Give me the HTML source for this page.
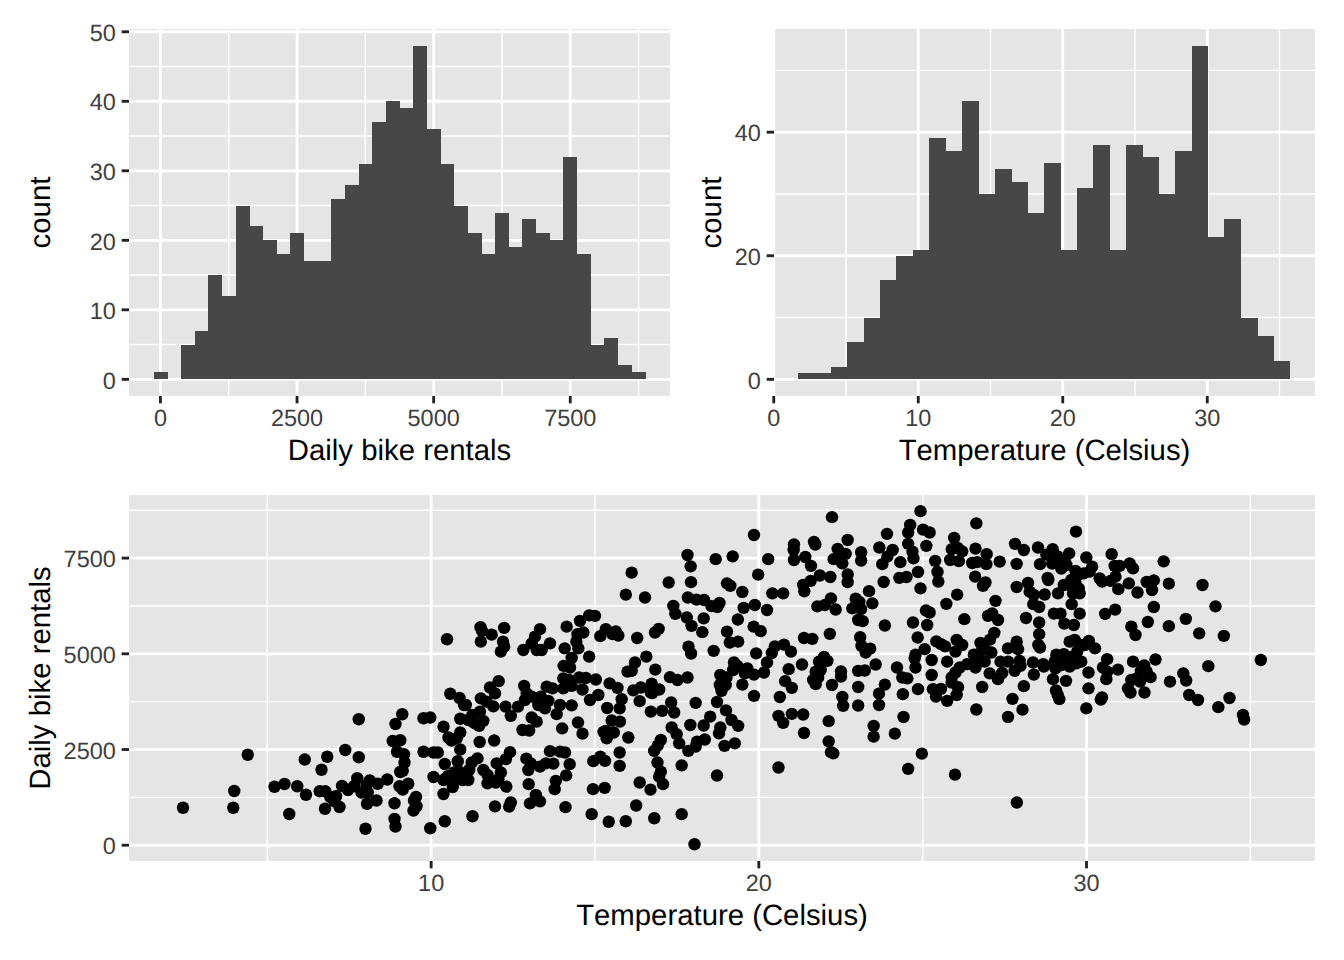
<!DOCTYPE html>
<html lang="en"><head><meta charset="utf-8"><title>Bike rentals</title>
<style>html,body{margin:0;padding:0;background:#fff;overflow:hidden}svg{display:block}text{font-family:'Liberation Sans', Arial, Helvetica, sans-serif;font-kerning:none;font-variant-ligatures:none;text-rendering:geometricPrecision}</style>
</head><body>
<svg width="1344" height="960" viewBox="0 0 1344 960">
<rect width="1344" height="960" fill="#fff"/>
<clipPath id="c1"><rect x="129" y="29" width="541" height="367"/></clipPath>
<rect x="129" y="29" width="541" height="367" fill="#E5E5E5"/>
<g clip-path="url(#c1)" stroke="#fff" fill="none">
<line x1="129" x2="670" y1="344.56" y2="344.56" stroke-width="1.42"/>
<line x1="129" x2="670" y1="275.06" y2="275.06" stroke-width="1.42"/>
<line x1="129" x2="670" y1="205.55" y2="205.55" stroke-width="1.42"/>
<line x1="129" x2="670" y1="136.04" y2="136.04" stroke-width="1.42"/>
<line x1="129" x2="670" y1="66.53" y2="66.53" stroke-width="1.42"/>
<line y1="29" y2="396" x1="228.73" x2="228.73" stroke-width="1.42"/>
<line y1="29" y2="396" x1="365.35" x2="365.35" stroke-width="1.42"/>
<line y1="29" y2="396" x1="501.96" x2="501.96" stroke-width="1.42"/>
<line y1="29" y2="396" x1="638.58" x2="638.58" stroke-width="1.42"/>
<line x1="129" x2="670" y1="379.32" y2="379.32" stroke-width="2.85"/>
<line x1="129" x2="670" y1="309.81" y2="309.81" stroke-width="2.85"/>
<line x1="129" x2="670" y1="240.3" y2="240.3" stroke-width="2.85"/>
<line x1="129" x2="670" y1="170.8" y2="170.8" stroke-width="2.85"/>
<line x1="129" x2="670" y1="101.29" y2="101.29" stroke-width="2.85"/>
<line x1="129" x2="670" y1="31.78" y2="31.78" stroke-width="2.85"/>
<line y1="29" y2="396" x1="160.42" x2="160.42" stroke-width="2.85"/>
<line y1="29" y2="396" x1="297.04" x2="297.04" stroke-width="2.85"/>
<line y1="29" y2="396" x1="433.65" x2="433.65" stroke-width="2.85"/>
<line y1="29" y2="396" x1="570.27" x2="570.27" stroke-width="2.85"/>
</g>
<g fill="#474747" shape-rendering="crispEdges">
<rect x="153.59" y="372.37" width="13.96" height="6.95"/>
<rect x="180.91" y="344.56" width="13.96" height="34.75"/>
<rect x="194.58" y="330.66" width="13.96" height="48.66"/>
<rect x="208.24" y="275.06" width="13.96" height="104.26"/>
<rect x="221.9" y="295.91" width="13.96" height="83.41"/>
<rect x="235.56" y="205.55" width="13.96" height="173.77"/>
<rect x="249.22" y="226.4" width="13.96" height="152.92"/>
<rect x="262.88" y="240.3" width="13.96" height="139.02"/>
<rect x="276.55" y="254.2" width="13.96" height="125.11"/>
<rect x="290.21" y="233.35" width="13.96" height="145.97"/>
<rect x="303.87" y="261.16" width="13.96" height="118.16"/>
<rect x="317.53" y="261.16" width="13.96" height="118.16"/>
<rect x="331.19" y="198.6" width="13.96" height="180.72"/>
<rect x="344.85" y="184.7" width="13.96" height="194.62"/>
<rect x="358.52" y="163.84" width="13.96" height="215.47"/>
<rect x="372.18" y="122.14" width="13.96" height="257.18"/>
<rect x="385.84" y="101.29" width="13.96" height="278.03"/>
<rect x="399.5" y="108.24" width="13.96" height="271.08"/>
<rect x="413.16" y="45.68" width="13.96" height="333.64"/>
<rect x="426.82" y="129.09" width="13.96" height="250.23"/>
<rect x="440.48" y="163.84" width="13.96" height="215.47"/>
<rect x="454.15" y="205.55" width="13.96" height="173.77"/>
<rect x="467.81" y="233.35" width="13.96" height="145.97"/>
<rect x="481.47" y="254.2" width="13.96" height="125.11"/>
<rect x="495.13" y="212.5" width="13.96" height="166.82"/>
<rect x="508.79" y="247.25" width="13.96" height="132.06"/>
<rect x="522.45" y="219.45" width="13.96" height="159.87"/>
<rect x="536.12" y="233.35" width="13.96" height="145.97"/>
<rect x="549.78" y="240.3" width="13.96" height="139.02"/>
<rect x="563.44" y="156.89" width="13.96" height="222.42"/>
<rect x="577.1" y="254.2" width="13.96" height="125.11"/>
<rect x="590.76" y="344.56" width="13.96" height="34.75"/>
<rect x="604.42" y="337.61" width="13.96" height="41.7"/>
<rect x="618.09" y="365.42" width="13.96" height="13.9"/>
<rect x="631.75" y="372.37" width="13.96" height="6.95"/>
</g>
<g stroke="#222" stroke-width="2.85">
<line x1="121.67" x2="129" y1="379.32" y2="379.32"/>
<line x1="121.67" x2="129" y1="309.81" y2="309.81"/>
<line x1="121.67" x2="129" y1="240.3" y2="240.3"/>
<line x1="121.67" x2="129" y1="170.8" y2="170.8"/>
<line x1="121.67" x2="129" y1="101.29" y2="101.29"/>
<line x1="121.67" x2="129" y1="31.78" y2="31.78"/>
<line y1="396" y2="403.33" x1="160.42" x2="160.42"/>
<line y1="396" y2="403.33" x1="297.04" x2="297.04"/>
<line y1="396" y2="403.33" x1="433.65" x2="433.65"/>
<line y1="396" y2="403.33" x1="570.27" x2="570.27"/>
</g>
<g fill="#404040" font-size="23.47">
<text x="115.8" y="388.52" text-anchor="end">0</text>
<text x="115.8" y="319.01" text-anchor="end">10</text>
<text x="115.8" y="249.5" text-anchor="end">20</text>
<text x="115.8" y="180" text-anchor="end">30</text>
<text x="115.8" y="110.49" text-anchor="end">40</text>
<text x="115.8" y="40.98" text-anchor="end">50</text>
<text x="160.42" y="425.8" text-anchor="middle">0</text>
<text x="297.04" y="425.8" text-anchor="middle">2500</text>
<text x="433.65" y="425.8" text-anchor="middle">5000</text>
<text x="570.27" y="425.8" text-anchor="middle">7500</text>
</g>
<g fill="#000" font-size="29.33">
<text x="399.5" y="459.7" text-anchor="middle">Daily bike rentals</text>
<text transform="translate(50,212.5) rotate(-90)" text-anchor="middle">count</text>
</g>
<clipPath id="c2"><rect x="774" y="29" width="541" height="367"/></clipPath>
<rect x="774" y="29" width="541" height="367" fill="#E5E5E5"/>
<g clip-path="url(#c2)" stroke="#fff" fill="none">
<line x1="774" x2="1315" y1="317.53" y2="317.53" stroke-width="1.42"/>
<line x1="774" x2="1315" y1="193.96" y2="193.96" stroke-width="1.42"/>
<line x1="774" x2="1315" y1="70.4" y2="70.4" stroke-width="1.42"/>
<line y1="29" y2="396" x1="846" x2="846" stroke-width="1.42"/>
<line y1="29" y2="396" x1="990.5" x2="990.5" stroke-width="1.42"/>
<line y1="29" y2="396" x1="1135" x2="1135" stroke-width="1.42"/>
<line y1="29" y2="396" x1="1279.5" x2="1279.5" stroke-width="1.42"/>
<line x1="774" x2="1315" y1="379.32" y2="379.32" stroke-width="2.85"/>
<line x1="774" x2="1315" y1="255.75" y2="255.75" stroke-width="2.85"/>
<line x1="774" x2="1315" y1="132.18" y2="132.18" stroke-width="2.85"/>
<line y1="29" y2="396" x1="773.75" x2="773.75" stroke-width="2.85"/>
<line y1="29" y2="396" x1="918.25" x2="918.25" stroke-width="2.85"/>
<line y1="29" y2="396" x1="1062.75" x2="1062.75" stroke-width="2.85"/>
<line y1="29" y2="396" x1="1207.25" x2="1207.25" stroke-width="2.85"/>
</g>
<g fill="#474747" shape-rendering="crispEdges">
<rect x="798" y="373.14" width="16.7" height="6.18"/>
<rect x="814.4" y="373.14" width="16.7" height="6.18"/>
<rect x="830.8" y="366.96" width="16.7" height="12.36"/>
<rect x="847.2" y="342.25" width="16.7" height="37.07"/>
<rect x="863.6" y="317.53" width="16.7" height="61.78"/>
<rect x="880" y="280.46" width="16.7" height="98.86"/>
<rect x="896.4" y="255.75" width="16.7" height="123.57"/>
<rect x="912.8" y="249.57" width="16.7" height="129.75"/>
<rect x="929.2" y="138.36" width="16.7" height="240.96"/>
<rect x="945.6" y="150.72" width="16.7" height="228.6"/>
<rect x="962" y="101.29" width="16.7" height="278.03"/>
<rect x="978.4" y="193.96" width="16.7" height="185.35"/>
<rect x="994.8" y="169.25" width="16.7" height="210.07"/>
<rect x="1011.2" y="181.61" width="16.7" height="197.71"/>
<rect x="1027.6" y="212.5" width="16.7" height="166.82"/>
<rect x="1044" y="163.07" width="16.7" height="216.25"/>
<rect x="1060.4" y="249.57" width="16.7" height="129.75"/>
<rect x="1076.8" y="187.79" width="16.7" height="191.53"/>
<rect x="1093.2" y="144.54" width="16.7" height="234.78"/>
<rect x="1109.6" y="249.57" width="16.7" height="129.75"/>
<rect x="1126" y="144.54" width="16.7" height="234.78"/>
<rect x="1142.4" y="156.89" width="16.7" height="222.42"/>
<rect x="1158.8" y="193.96" width="16.7" height="185.35"/>
<rect x="1175.2" y="150.72" width="16.7" height="228.6"/>
<rect x="1191.6" y="45.68" width="16.7" height="333.64"/>
<rect x="1208" y="237.21" width="16.7" height="142.1"/>
<rect x="1224.4" y="218.68" width="16.7" height="160.64"/>
<rect x="1240.8" y="317.53" width="16.7" height="61.78"/>
<rect x="1257.2" y="336.07" width="16.7" height="43.25"/>
<rect x="1273.6" y="360.78" width="16.7" height="18.54"/>
</g>
<g stroke="#222" stroke-width="2.85">
<line x1="766.67" x2="774" y1="379.32" y2="379.32"/>
<line x1="766.67" x2="774" y1="255.75" y2="255.75"/>
<line x1="766.67" x2="774" y1="132.18" y2="132.18"/>
<line y1="396" y2="403.33" x1="773.75" x2="773.75"/>
<line y1="396" y2="403.33" x1="918.25" x2="918.25"/>
<line y1="396" y2="403.33" x1="1062.75" x2="1062.75"/>
<line y1="396" y2="403.33" x1="1207.25" x2="1207.25"/>
</g>
<g fill="#404040" font-size="23.47">
<text x="760.8" y="388.52" text-anchor="end">0</text>
<text x="760.8" y="264.95" text-anchor="end">20</text>
<text x="760.8" y="141.38" text-anchor="end">40</text>
<text x="773.75" y="425.8" text-anchor="middle">0</text>
<text x="918.25" y="425.8" text-anchor="middle">10</text>
<text x="1062.75" y="425.8" text-anchor="middle">20</text>
<text x="1207.25" y="425.8" text-anchor="middle">30</text>
</g>
<g fill="#000" font-size="29.33">
<text x="1044.5" y="459.7" text-anchor="middle">Temperature (Celsius)</text>
<text transform="translate(720.75,212.5) rotate(-90)" text-anchor="middle">count</text>
</g>
<clipPath id="c3"><rect x="129" y="495" width="1186" height="366"/></clipPath>
<rect x="129" y="495" width="1186" height="366" fill="#E5E5E5"/>
<g clip-path="url(#c3)" stroke="#fff" fill="none">
<line x1="129" x2="1315" y1="797.36" y2="797.36" stroke-width="1.42"/>
<line x1="129" x2="1315" y1="701.66" y2="701.66" stroke-width="1.42"/>
<line x1="129" x2="1315" y1="605.96" y2="605.96" stroke-width="1.42"/>
<line x1="129" x2="1315" y1="510.26" y2="510.26" stroke-width="1.42"/>
<line y1="495" y2="861" x1="267.31" x2="267.31" stroke-width="1.42"/>
<line y1="495" y2="861" x1="594.99" x2="594.99" stroke-width="1.42"/>
<line y1="495" y2="861" x1="922.67" x2="922.67" stroke-width="1.42"/>
<line y1="495" y2="861" x1="1250.35" x2="1250.35" stroke-width="1.42"/>
<line x1="129" x2="1315" y1="845.21" y2="845.21" stroke-width="2.85"/>
<line x1="129" x2="1315" y1="749.51" y2="749.51" stroke-width="2.85"/>
<line x1="129" x2="1315" y1="653.81" y2="653.81" stroke-width="2.85"/>
<line x1="129" x2="1315" y1="558.11" y2="558.11" stroke-width="2.85"/>
<line y1="495" y2="861" x1="431.15" x2="431.15" stroke-width="2.85"/>
<line y1="495" y2="861" x1="758.83" x2="758.83" stroke-width="2.85"/>
<line y1="495" y2="861" x1="1086.51" x2="1086.51" stroke-width="2.85"/>
</g>
<g fill="#000">
<circle cx="183" cy="807.75" r="6.2"/>
<circle cx="233.25" cy="807.75" r="6.2"/>
<circle cx="234.25" cy="791" r="6.2"/>
<circle cx="247.75" cy="754.75" r="6.2"/>
<circle cx="274.5" cy="786.75" r="6.2"/>
<circle cx="284.5" cy="784" r="6.2"/>
<circle cx="289.25" cy="814" r="6.2"/>
<circle cx="297.25" cy="786.25" r="6.2"/>
<circle cx="304.75" cy="759.5" r="6.2"/>
<circle cx="306" cy="794.75" r="6.2"/>
<circle cx="319.75" cy="791.25" r="6.2"/>
<circle cx="321.5" cy="769.75" r="6.2"/>
<circle cx="325.25" cy="791.25" r="6.2"/>
<circle cx="325" cy="808.75" r="6.2"/>
<circle cx="327.25" cy="756.75" r="6.2"/>
<circle cx="330.25" cy="797" r="6.2"/>
<circle cx="336" cy="796.25" r="6.2"/>
<circle cx="339.5" cy="807" r="6.2"/>
<circle cx="334.5" cy="801.25" r="6.2"/>
<circle cx="342" cy="786" r="6.2"/>
<circle cx="345.25" cy="750" r="6.2"/>
<circle cx="348" cy="790" r="6.2"/>
<circle cx="354" cy="786.25" r="6.2"/>
<circle cx="357.25" cy="778.25" r="6.2"/>
<circle cx="358.75" cy="719.25" r="6.2"/>
<circle cx="358.75" cy="757.25" r="6.2"/>
<circle cx="361.5" cy="792.5" r="6.2"/>
<circle cx="366.5" cy="785" r="6.2"/>
<circle cx="369.75" cy="780.5" r="6.2"/>
<circle cx="365.5" cy="828.75" r="6.2"/>
<circle cx="367" cy="803.75" r="6.2"/>
<circle cx="367.75" cy="792.5" r="6.2"/>
<circle cx="376.5" cy="800.5" r="6.2"/>
<circle cx="377.75" cy="783.75" r="6.2"/>
<circle cx="387.25" cy="779.5" r="6.2"/>
<circle cx="392.75" cy="741" r="6.2"/>
<circle cx="395.5" cy="724" r="6.2"/>
<circle cx="400.25" cy="740.25" r="6.2"/>
<circle cx="402.25" cy="714.25" r="6.2"/>
<circle cx="397" cy="751.75" r="6.2"/>
<circle cx="404" cy="754.25" r="6.2"/>
<circle cx="404.5" cy="762.5" r="6.2"/>
<circle cx="402.75" cy="770.75" r="6.2"/>
<circle cx="400.25" cy="772" r="6.2"/>
<circle cx="399.5" cy="786.25" r="6.2"/>
<circle cx="402.75" cy="789.5" r="6.2"/>
<circle cx="408.25" cy="783.75" r="6.2"/>
<circle cx="394.5" cy="803.25" r="6.2"/>
<circle cx="394.5" cy="819" r="6.2"/>
<circle cx="395.5" cy="826.5" r="6.2"/>
<circle cx="416" cy="797" r="6.2"/>
<circle cx="414" cy="800.5" r="6.2"/>
<circle cx="416.5" cy="806.25" r="6.2"/>
<circle cx="413.5" cy="810.5" r="6.2"/>
<circle cx="423.5" cy="718.25" r="6.2"/>
<circle cx="430.25" cy="717.5" r="6.2"/>
<circle cx="423.5" cy="751.75" r="6.2"/>
<circle cx="433.5" cy="752.5" r="6.2"/>
<circle cx="437.75" cy="752.5" r="6.2"/>
<circle cx="430.25" cy="828.25" r="6.2"/>
<circle cx="433.5" cy="777" r="6.2"/>
<circle cx="443.5" cy="726.75" r="6.2"/>
<circle cx="447" cy="639.25" r="6.2"/>
<circle cx="450.25" cy="693.75" r="6.2"/>
<circle cx="459.5" cy="698" r="6.2"/>
<circle cx="464" cy="705" r="6.2"/>
<circle cx="448.5" cy="737.5" r="6.2"/>
<circle cx="451.5" cy="740.5" r="6.2"/>
<circle cx="460.25" cy="718.75" r="6.2"/>
<circle cx="460.25" cy="732.5" r="6.2"/>
<circle cx="460.25" cy="749.5" r="6.2"/>
<circle cx="444.75" cy="764" r="6.2"/>
<circle cx="457.75" cy="761.25" r="6.2"/>
<circle cx="443.5" cy="780" r="6.2"/>
<circle cx="447.75" cy="776.25" r="6.2"/>
<circle cx="452.75" cy="787" r="6.2"/>
<circle cx="454" cy="772.5" r="6.2"/>
<circle cx="461.5" cy="775" r="6.2"/>
<circle cx="443.5" cy="794" r="6.2"/>
<circle cx="444.75" cy="821.25" r="6.2"/>
<circle cx="480.5" cy="627.17" r="6.2"/>
<circle cx="482" cy="630.83" r="6.2"/>
<circle cx="491.67" cy="634.67" r="6.2"/>
<circle cx="504.17" cy="627.83" r="6.2"/>
<circle cx="480.83" cy="641.67" r="6.2"/>
<circle cx="503" cy="641.67" r="6.2"/>
<circle cx="504.17" cy="646.67" r="6.2"/>
<circle cx="500.83" cy="651.67" r="6.2"/>
<circle cx="523.33" cy="650" r="6.2"/>
<circle cx="531.67" cy="643.33" r="6.2"/>
<circle cx="535" cy="636.67" r="6.2"/>
<circle cx="540" cy="629.17" r="6.2"/>
<circle cx="536.67" cy="650" r="6.2"/>
<circle cx="541.67" cy="650" r="6.2"/>
<circle cx="550" cy="643.33" r="6.2"/>
<circle cx="564.67" cy="648.33" r="6.2"/>
<circle cx="566.67" cy="626.67" r="6.2"/>
<circle cx="580" cy="620.83" r="6.2"/>
<circle cx="589.17" cy="615.33" r="6.2"/>
<circle cx="595" cy="615.83" r="6.2"/>
<circle cx="583.33" cy="632.5" r="6.2"/>
<circle cx="577.5" cy="634.17" r="6.2"/>
<circle cx="576.33" cy="641.67" r="6.2"/>
<circle cx="578.33" cy="648.33" r="6.2"/>
<circle cx="600.33" cy="636.17" r="6.2"/>
<circle cx="605.83" cy="629.17" r="6.2"/>
<circle cx="615.83" cy="631.33" r="6.2"/>
<circle cx="618.33" cy="635.5" r="6.2"/>
<circle cx="612.5" cy="634.17" r="6.2"/>
<circle cx="637.17" cy="638" r="6.2"/>
<circle cx="655" cy="632.5" r="6.2"/>
<circle cx="658.67" cy="628.83" r="6.2"/>
<circle cx="625.83" cy="594.67" r="6.2"/>
<circle cx="631.67" cy="572.67" r="6.2"/>
<circle cx="645" cy="597.5" r="6.2"/>
<circle cx="668.67" cy="582.5" r="6.2"/>
<circle cx="673.33" cy="605.83" r="6.2"/>
<circle cx="675.33" cy="613.83" r="6.2"/>
<circle cx="687.5" cy="555" r="6.2"/>
<circle cx="687.83" cy="597.5" r="6.2"/>
<circle cx="686.83" cy="617.5" r="6.2"/>
<circle cx="688.5" cy="646.67" r="6.2"/>
<circle cx="690.67" cy="566.33" r="6.2"/>
<circle cx="691" cy="582.17" r="6.2"/>
<circle cx="691.5" cy="625.83" r="6.2"/>
<circle cx="696.5" cy="599.67" r="6.2"/>
<circle cx="704" cy="600" r="6.2"/>
<circle cx="711.5" cy="606.17" r="6.2"/>
<circle cx="719.5" cy="603" r="6.2"/>
<circle cx="717.33" cy="607" r="6.2"/>
<circle cx="703.67" cy="618.33" r="6.2"/>
<circle cx="702.33" cy="632.17" r="6.2"/>
<circle cx="715.67" cy="559.17" r="6.2"/>
<circle cx="732.67" cy="556.33" r="6.2"/>
<circle cx="727" cy="583.33" r="6.2"/>
<circle cx="730.33" cy="585.83" r="6.2"/>
<circle cx="742.33" cy="592" r="6.2"/>
<circle cx="743.67" cy="607.83" r="6.2"/>
<circle cx="754.83" cy="605" r="6.2"/>
<circle cx="737.83" cy="619.5" r="6.2"/>
<circle cx="727" cy="631.67" r="6.2"/>
<circle cx="729.83" cy="642.5" r="6.2"/>
<circle cx="738.17" cy="641.67" r="6.2"/>
<circle cx="713.67" cy="650.83" r="6.2"/>
<circle cx="753.67" cy="626.67" r="6.2"/>
<circle cx="760.67" cy="631.17" r="6.2"/>
<circle cx="756.17" cy="653.33" r="6.2"/>
<circle cx="754" cy="535" r="6.2"/>
<circle cx="758.17" cy="574.67" r="6.2"/>
<circle cx="768.17" cy="559.17" r="6.2"/>
<circle cx="767" cy="610" r="6.2"/>
<circle cx="772.33" cy="593.33" r="6.2"/>
<circle cx="783.17" cy="593.33" r="6.2"/>
<circle cx="774.83" cy="646.33" r="6.2"/>
<circle cx="784" cy="644.67" r="6.2"/>
<circle cx="791" cy="651.67" r="6.2"/>
<circle cx="771.83" cy="653" r="6.2"/>
<circle cx="794" cy="544.5" r="6.2"/>
<circle cx="793.67" cy="550" r="6.2"/>
<circle cx="794" cy="560" r="6.2"/>
<circle cx="805.33" cy="557" r="6.2"/>
<circle cx="811" cy="565.83" r="6.2"/>
<circle cx="814" cy="542" r="6.2"/>
<circle cx="815.33" cy="544.5" r="6.2"/>
<circle cx="819.83" cy="575.5" r="6.2"/>
<circle cx="810.67" cy="580.83" r="6.2"/>
<circle cx="803.17" cy="585" r="6.2"/>
<circle cx="804.33" cy="591.33" r="6.2"/>
<circle cx="830.33" cy="577" r="6.2"/>
<circle cx="832" cy="517.17" r="6.2"/>
<circle cx="847.67" cy="540" r="6.2"/>
<circle cx="837.67" cy="548.83" r="6.2"/>
<circle cx="845.67" cy="553.83" r="6.2"/>
<circle cx="833.67" cy="559.17" r="6.2"/>
<circle cx="839.83" cy="557" r="6.2"/>
<circle cx="842.33" cy="563.33" r="6.2"/>
<circle cx="861.17" cy="552.17" r="6.2"/>
<circle cx="861.17" cy="560.5" r="6.2"/>
<circle cx="847.67" cy="574.5" r="6.2"/>
<circle cx="847.67" cy="582.17" r="6.2"/>
<circle cx="831" cy="598.33" r="6.2"/>
<circle cx="824.83" cy="605" r="6.2"/>
<circle cx="817.33" cy="606.33" r="6.2"/>
<circle cx="835.67" cy="609.5" r="6.2"/>
<circle cx="829.83" cy="633.83" r="6.2"/>
<circle cx="804" cy="638" r="6.2"/>
<circle cx="812.33" cy="638.83" r="6.2"/>
<circle cx="855.67" cy="598.67" r="6.2"/>
<circle cx="859.33" cy="602" r="6.2"/>
<circle cx="852.33" cy="608.33" r="6.2"/>
<circle cx="861" cy="609.17" r="6.2"/>
<circle cx="856.5" cy="605" r="6.2"/>
<circle cx="858.17" cy="620" r="6.2"/>
<circle cx="862.67" cy="621.17" r="6.2"/>
<circle cx="869" cy="591.17" r="6.2"/>
<circle cx="872.33" cy="603.33" r="6.2"/>
<circle cx="860.17" cy="637.17" r="6.2"/>
<circle cx="861.5" cy="645.83" r="6.2"/>
<circle cx="870.17" cy="648.67" r="6.2"/>
<circle cx="865.67" cy="652.5" r="6.2"/>
<circle cx="884.83" cy="625.5" r="6.2"/>
<circle cx="883.67" cy="582" r="6.2"/>
<circle cx="879.33" cy="547.5" r="6.2"/>
<circle cx="887" cy="533.83" r="6.2"/>
<circle cx="892.67" cy="550" r="6.2"/>
<circle cx="887.33" cy="556.67" r="6.2"/>
<circle cx="882.33" cy="564.17" r="6.2"/>
<circle cx="900.33" cy="562.17" r="6.2"/>
<circle cx="899.33" cy="577.83" r="6.2"/>
<circle cx="906.5" cy="577" r="6.2"/>
<circle cx="910.17" cy="525" r="6.2"/>
<circle cx="908.17" cy="532.5" r="6.2"/>
<circle cx="908.17" cy="543.83" r="6.2"/>
<circle cx="912.5" cy="551.67" r="6.2"/>
<circle cx="920.5" cy="511.17" r="6.2"/>
<circle cx="913.5" cy="558.33" r="6.2"/>
<circle cx="918" cy="572" r="6.2"/>
<circle cx="920.5" cy="588.33" r="6.2"/>
<circle cx="923" cy="529.67" r="6.2"/>
<circle cx="929.67" cy="532.5" r="6.2"/>
<circle cx="926.33" cy="545.83" r="6.2"/>
<circle cx="935.17" cy="560.83" r="6.2"/>
<circle cx="937.5" cy="572" r="6.2"/>
<circle cx="938.33" cy="581.67" r="6.2"/>
<circle cx="926" cy="610.5" r="6.2"/>
<circle cx="929.67" cy="612.5" r="6.2"/>
<circle cx="927.17" cy="625" r="6.2"/>
<circle cx="913" cy="622.5" r="6.2"/>
<circle cx="917.67" cy="637.5" r="6.2"/>
<circle cx="924.67" cy="649.17" r="6.2"/>
<circle cx="915.5" cy="654.67" r="6.2"/>
<circle cx="946.33" cy="603.83" r="6.2"/>
<circle cx="957.17" cy="594.67" r="6.2"/>
<circle cx="954.17" cy="538" r="6.2"/>
<circle cx="951.83" cy="549.17" r="6.2"/>
<circle cx="957.67" cy="548" r="6.2"/>
<circle cx="962.17" cy="551.33" r="6.2"/>
<circle cx="950.17" cy="560" r="6.2"/>
<circle cx="958.83" cy="561.17" r="6.2"/>
<circle cx="964.33" cy="619.17" r="6.2"/>
<circle cx="936.33" cy="641.33" r="6.2"/>
<circle cx="941" cy="644.17" r="6.2"/>
<circle cx="945.17" cy="646.33" r="6.2"/>
<circle cx="956.67" cy="640" r="6.2"/>
<circle cx="962.17" cy="645" r="6.2"/>
<circle cx="955.5" cy="651.67" r="6.2"/>
<circle cx="976.33" cy="523.33" r="6.2"/>
<circle cx="975.5" cy="548.67" r="6.2"/>
<circle cx="972.17" cy="563" r="6.2"/>
<circle cx="977.17" cy="562.17" r="6.2"/>
<circle cx="986.67" cy="554.17" r="6.2"/>
<circle cx="986.33" cy="564.17" r="6.2"/>
<circle cx="975.17" cy="576.67" r="6.2"/>
<circle cx="985.5" cy="582.5" r="6.2"/>
<circle cx="983" cy="585.83" r="6.2"/>
<circle cx="999.67" cy="561.67" r="6.2"/>
<circle cx="995.5" cy="600.83" r="6.2"/>
<circle cx="992.17" cy="613.33" r="6.2"/>
<circle cx="988" cy="615.83" r="6.2"/>
<circle cx="998" cy="620" r="6.2"/>
<circle cx="994.33" cy="632.83" r="6.2"/>
<circle cx="990" cy="639.67" r="6.2"/>
<circle cx="980.5" cy="643" r="6.2"/>
<circle cx="984.67" cy="649.17" r="6.2"/>
<circle cx="991.33" cy="652.5" r="6.2"/>
<circle cx="973.83" cy="654.67" r="6.2"/>
<circle cx="979.67" cy="653.33" r="6.2"/>
<circle cx="1015" cy="543.83" r="6.2"/>
<circle cx="1023.83" cy="550" r="6.2"/>
<circle cx="1016.67" cy="563.83" r="6.2"/>
<circle cx="1016.67" cy="587" r="6.2"/>
<circle cx="1026" cy="618" r="6.2"/>
<circle cx="1016.67" cy="641.67" r="6.2"/>
<circle cx="1008" cy="648.33" r="6.2"/>
<circle cx="1018" cy="649.17" r="6.2"/>
<circle cx="1028" cy="582.83" r="6.2"/>
<circle cx="1029.67" cy="591.67" r="6.2"/>
<circle cx="1033.83" cy="595" r="6.2"/>
<circle cx="1033.33" cy="604.17" r="6.2"/>
<circle cx="1039.17" cy="607" r="6.2"/>
<circle cx="1039.17" cy="622.5" r="6.2"/>
<circle cx="1039.17" cy="634.17" r="6.2"/>
<circle cx="1038.33" cy="645" r="6.2"/>
<circle cx="1040" cy="647.5" r="6.2"/>
<circle cx="1038" cy="547.5" r="6.2"/>
<circle cx="1040" cy="564.17" r="6.2"/>
<circle cx="1044.67" cy="594.5" r="6.2"/>
<circle cx="1047.67" cy="577.83" r="6.2"/>
<circle cx="1048.33" cy="580" r="6.2"/>
<circle cx="1052.67" cy="549.17" r="6.2"/>
<circle cx="1046.33" cy="554.67" r="6.2"/>
<circle cx="1051.67" cy="557" r="6.2"/>
<circle cx="1057.67" cy="556.33" r="6.2"/>
<circle cx="1052.17" cy="563.67" r="6.2"/>
<circle cx="1059.67" cy="562.5" r="6.2"/>
<circle cx="1069.17" cy="553.33" r="6.2"/>
<circle cx="1064.67" cy="559.17" r="6.2"/>
<circle cx="1061.33" cy="568.67" r="6.2"/>
<circle cx="1066.33" cy="565" r="6.2"/>
<circle cx="1058" cy="593.33" r="6.2"/>
<circle cx="1063.83" cy="585" r="6.2"/>
<circle cx="1071.33" cy="580" r="6.2"/>
<circle cx="1075.5" cy="570.83" r="6.2"/>
<circle cx="1078" cy="575" r="6.2"/>
<circle cx="1075.5" cy="583.33" r="6.2"/>
<circle cx="1073" cy="588.33" r="6.2"/>
<circle cx="1078.83" cy="588.33" r="6.2"/>
<circle cx="1079.67" cy="593.33" r="6.2"/>
<circle cx="1073" cy="593.33" r="6.2"/>
<circle cx="1083.83" cy="573.33" r="6.2"/>
<circle cx="1071.67" cy="604.17" r="6.2"/>
<circle cx="1079.67" cy="613.67" r="6.2"/>
<circle cx="1053.83" cy="613.67" r="6.2"/>
<circle cx="1060.5" cy="613.67" r="6.2"/>
<circle cx="1064.33" cy="623.67" r="6.2"/>
<circle cx="1073.83" cy="625" r="6.2"/>
<circle cx="1076" cy="531.67" r="6.2"/>
<circle cx="1086.33" cy="557.5" r="6.2"/>
<circle cx="1092.17" cy="566.67" r="6.2"/>
<circle cx="1089.67" cy="571.67" r="6.2"/>
<circle cx="1099.67" cy="578.33" r="6.2"/>
<circle cx="1102.17" cy="581.67" r="6.2"/>
<circle cx="1111.67" cy="554.17" r="6.2"/>
<circle cx="1114.67" cy="565.83" r="6.2"/>
<circle cx="1119.67" cy="565.83" r="6.2"/>
<circle cx="1115.5" cy="576.67" r="6.2"/>
<circle cx="1110.5" cy="580.83" r="6.2"/>
<circle cx="1118.33" cy="589.17" r="6.2"/>
<circle cx="1129.67" cy="563.33" r="6.2"/>
<circle cx="1133" cy="568.33" r="6.2"/>
<circle cx="1128.83" cy="583.33" r="6.2"/>
<circle cx="1105.17" cy="613.83" r="6.2"/>
<circle cx="1115.17" cy="609.67" r="6.2"/>
<circle cx="1131.33" cy="626.67" r="6.2"/>
<circle cx="1135.5" cy="635" r="6.2"/>
<circle cx="1069.67" cy="641.67" r="6.2"/>
<circle cx="1074.67" cy="640" r="6.2"/>
<circle cx="1079.67" cy="645" r="6.2"/>
<circle cx="1077.17" cy="651.67" r="6.2"/>
<circle cx="1088.83" cy="640.83" r="6.2"/>
<circle cx="1084.67" cy="645" r="6.2"/>
<circle cx="1095" cy="648.33" r="6.2"/>
<circle cx="1056.33" cy="654.67" r="6.2"/>
<circle cx="1063.83" cy="654.17" r="6.2"/>
<circle cx="1137.5" cy="592.5" r="6.2"/>
<circle cx="1146.67" cy="582" r="6.2"/>
<circle cx="1153.83" cy="580.33" r="6.2"/>
<circle cx="1152" cy="590" r="6.2"/>
<circle cx="1163.67" cy="561.33" r="6.2"/>
<circle cx="1168.83" cy="583.67" r="6.2"/>
<circle cx="1153.83" cy="607" r="6.2"/>
<circle cx="1147.83" cy="622" r="6.2"/>
<circle cx="1168.83" cy="626.17" r="6.2"/>
<circle cx="1185.83" cy="618.83" r="6.2"/>
<circle cx="1202.5" cy="585" r="6.2"/>
<circle cx="1215.5" cy="606.33" r="6.2"/>
<circle cx="1199.17" cy="633.33" r="6.2"/>
<circle cx="1223.83" cy="635.83" r="6.2"/>
<circle cx="571.67" cy="658" r="6.2"/>
<circle cx="589.17" cy="656.67" r="6.2"/>
<circle cx="646.33" cy="656.67" r="6.2"/>
<circle cx="563.67" cy="665.83" r="6.2"/>
<circle cx="570" cy="667.5" r="6.2"/>
<circle cx="635" cy="662.5" r="6.2"/>
<circle cx="627.5" cy="671.67" r="6.2"/>
<circle cx="631.67" cy="670.83" r="6.2"/>
<circle cx="655.33" cy="669.67" r="6.2"/>
<circle cx="670" cy="677.17" r="6.2"/>
<circle cx="677.5" cy="680" r="6.2"/>
<circle cx="687.5" cy="677.5" r="6.2"/>
<circle cx="563.33" cy="678.33" r="6.2"/>
<circle cx="569.17" cy="680" r="6.2"/>
<circle cx="579.17" cy="677.5" r="6.2"/>
<circle cx="585.83" cy="678" r="6.2"/>
<circle cx="595.83" cy="679.5" r="6.2"/>
<circle cx="582.5" cy="689.5" r="6.2"/>
<circle cx="563.33" cy="688.33" r="6.2"/>
<circle cx="571.67" cy="685.83" r="6.2"/>
<circle cx="609.67" cy="683.33" r="6.2"/>
<circle cx="617.5" cy="687.83" r="6.2"/>
<circle cx="598.33" cy="695" r="6.2"/>
<circle cx="590" cy="700" r="6.2"/>
<circle cx="621.67" cy="699.17" r="6.2"/>
<circle cx="633.33" cy="690.33" r="6.2"/>
<circle cx="640.83" cy="687.5" r="6.2"/>
<circle cx="651.67" cy="683.67" r="6.2"/>
<circle cx="659.17" cy="689.5" r="6.2"/>
<circle cx="650.83" cy="692.5" r="6.2"/>
<circle cx="639.67" cy="701.17" r="6.2"/>
<circle cx="671.17" cy="702.5" r="6.2"/>
<circle cx="674.17" cy="712.5" r="6.2"/>
<circle cx="650.83" cy="711.67" r="6.2"/>
<circle cx="662.17" cy="710.83" r="6.2"/>
<circle cx="607.17" cy="708" r="6.2"/>
<circle cx="619.67" cy="708.33" r="6.2"/>
<circle cx="611.67" cy="720.5" r="6.2"/>
<circle cx="620" cy="721.67" r="6.2"/>
<circle cx="605.83" cy="730.83" r="6.2"/>
<circle cx="613.83" cy="732.5" r="6.2"/>
<circle cx="606.67" cy="738.33" r="6.2"/>
<circle cx="628.33" cy="737.5" r="6.2"/>
<circle cx="671.67" cy="727.5" r="6.2"/>
<circle cx="676.67" cy="734.17" r="6.2"/>
<circle cx="679.17" cy="743.33" r="6.2"/>
<circle cx="690.33" cy="725" r="6.2"/>
<circle cx="688.33" cy="750.83" r="6.2"/>
<circle cx="660.83" cy="740" r="6.2"/>
<circle cx="654.17" cy="750.83" r="6.2"/>
<circle cx="657.5" cy="762.5" r="6.2"/>
<circle cx="660.83" cy="771.67" r="6.2"/>
<circle cx="659.17" cy="776.67" r="6.2"/>
<circle cx="663" cy="784.17" r="6.2"/>
<circle cx="681.67" cy="765.33" r="6.2"/>
<circle cx="639.67" cy="782.5" r="6.2"/>
<circle cx="650.5" cy="789.67" r="6.2"/>
<circle cx="619.67" cy="752.5" r="6.2"/>
<circle cx="619.67" cy="765.83" r="6.2"/>
<circle cx="593.33" cy="761.17" r="6.2"/>
<circle cx="600.33" cy="756.67" r="6.2"/>
<circle cx="605" cy="760.83" r="6.2"/>
<circle cx="593" cy="789.17" r="6.2"/>
<circle cx="604.67" cy="787.83" r="6.2"/>
<circle cx="636.17" cy="805.5" r="6.2"/>
<circle cx="565.5" cy="807.17" r="6.2"/>
<circle cx="591.67" cy="814.17" r="6.2"/>
<circle cx="681.67" cy="814.17" r="6.2"/>
<circle cx="498.67" cy="681.17" r="6.2"/>
<circle cx="490" cy="687.5" r="6.2"/>
<circle cx="495" cy="693.33" r="6.2"/>
<circle cx="480.83" cy="698.33" r="6.2"/>
<circle cx="486.67" cy="701.67" r="6.2"/>
<circle cx="493.33" cy="706.33" r="6.2"/>
<circle cx="505.5" cy="706.67" r="6.2"/>
<circle cx="510.83" cy="715.83" r="6.2"/>
<circle cx="518" cy="706.67" r="6.2"/>
<circle cx="524.17" cy="685.83" r="6.2"/>
<circle cx="526.67" cy="693.33" r="6.2"/>
<circle cx="531.67" cy="696.67" r="6.2"/>
<circle cx="525" cy="700" r="6.2"/>
<circle cx="546.67" cy="686.67" r="6.2"/>
<circle cx="552.5" cy="688.33" r="6.2"/>
<circle cx="540.83" cy="696.67" r="6.2"/>
<circle cx="548.33" cy="700.83" r="6.2"/>
<circle cx="538.33" cy="705" r="6.2"/>
<circle cx="545" cy="708.33" r="6.2"/>
<circle cx="560" cy="705" r="6.2"/>
<circle cx="556.67" cy="714.17" r="6.2"/>
<circle cx="571.67" cy="705.33" r="6.2"/>
<circle cx="531.67" cy="717.5" r="6.2"/>
<circle cx="536.67" cy="721.67" r="6.2"/>
<circle cx="522.5" cy="730" r="6.2"/>
<circle cx="529.17" cy="730.5" r="6.2"/>
<circle cx="562.17" cy="728.33" r="6.2"/>
<circle cx="578" cy="722.5" r="6.2"/>
<circle cx="582.5" cy="733.67" r="6.2"/>
<circle cx="465.83" cy="705" r="6.2"/>
<circle cx="472.5" cy="715" r="6.2"/>
<circle cx="480" cy="711.67" r="6.2"/>
<circle cx="483.33" cy="720.83" r="6.2"/>
<circle cx="475" cy="723.33" r="6.2"/>
<circle cx="479.17" cy="725.83" r="6.2"/>
<circle cx="468.33" cy="720" r="6.2"/>
<circle cx="479.67" cy="742" r="6.2"/>
<circle cx="494.17" cy="740.5" r="6.2"/>
<circle cx="510" cy="752.17" r="6.2"/>
<circle cx="505.83" cy="759.17" r="6.2"/>
<circle cx="496.67" cy="763.33" r="6.2"/>
<circle cx="477.5" cy="758.33" r="6.2"/>
<circle cx="471.67" cy="762.5" r="6.2"/>
<circle cx="469.17" cy="770" r="6.2"/>
<circle cx="468.33" cy="780" r="6.2"/>
<circle cx="483.33" cy="770" r="6.2"/>
<circle cx="487.5" cy="775" r="6.2"/>
<circle cx="500.83" cy="772.5" r="6.2"/>
<circle cx="498.33" cy="779.17" r="6.2"/>
<circle cx="487.5" cy="783.33" r="6.2"/>
<circle cx="495.83" cy="782.5" r="6.2"/>
<circle cx="506.33" cy="786.67" r="6.2"/>
<circle cx="526.33" cy="758.67" r="6.2"/>
<circle cx="530.83" cy="763.33" r="6.2"/>
<circle cx="528.33" cy="770" r="6.2"/>
<circle cx="540" cy="766.67" r="6.2"/>
<circle cx="545.83" cy="763.33" r="6.2"/>
<circle cx="553.33" cy="763.67" r="6.2"/>
<circle cx="550" cy="751.17" r="6.2"/>
<circle cx="560" cy="751.67" r="6.2"/>
<circle cx="565" cy="752.5" r="6.2"/>
<circle cx="569.67" cy="764.17" r="6.2"/>
<circle cx="566.17" cy="775.33" r="6.2"/>
<circle cx="555.83" cy="780.83" r="6.2"/>
<circle cx="554.67" cy="789.17" r="6.2"/>
<circle cx="528.67" cy="784.17" r="6.2"/>
<circle cx="535.83" cy="795" r="6.2"/>
<circle cx="530" cy="803.33" r="6.2"/>
<circle cx="540" cy="801.33" r="6.2"/>
<circle cx="510.83" cy="802.5" r="6.2"/>
<circle cx="509.17" cy="806.67" r="6.2"/>
<circle cx="495" cy="806.33" r="6.2"/>
<circle cx="824" cy="657" r="6.2"/>
<circle cx="827.33" cy="660.83" r="6.2"/>
<circle cx="819" cy="661.67" r="6.2"/>
<circle cx="820.67" cy="670" r="6.2"/>
<circle cx="815.67" cy="671.67" r="6.2"/>
<circle cx="818.17" cy="677.5" r="6.2"/>
<circle cx="813.17" cy="680" r="6.2"/>
<circle cx="815.67" cy="684.17" r="6.2"/>
<circle cx="802" cy="664.5" r="6.2"/>
<circle cx="788.67" cy="669.17" r="6.2"/>
<circle cx="785.17" cy="681.17" r="6.2"/>
<circle cx="791.83" cy="687.83" r="6.2"/>
<circle cx="779.83" cy="697" r="6.2"/>
<circle cx="767" cy="662.5" r="6.2"/>
<circle cx="764" cy="672.5" r="6.2"/>
<circle cx="747.33" cy="668.33" r="6.2"/>
<circle cx="744.83" cy="673.33" r="6.2"/>
<circle cx="754" cy="674.67" r="6.2"/>
<circle cx="734" cy="662.5" r="6.2"/>
<circle cx="737.33" cy="665.83" r="6.2"/>
<circle cx="733.17" cy="670" r="6.2"/>
<circle cx="742.33" cy="684.67" r="6.2"/>
<circle cx="720.33" cy="675" r="6.2"/>
<circle cx="726.5" cy="677.5" r="6.2"/>
<circle cx="719.83" cy="685" r="6.2"/>
<circle cx="725.67" cy="685" r="6.2"/>
<circle cx="721.5" cy="690.83" r="6.2"/>
<circle cx="754" cy="695.83" r="6.2"/>
<circle cx="695.67" cy="702.83" r="6.2"/>
<circle cx="717" cy="702" r="6.2"/>
<circle cx="726" cy="710.33" r="6.2"/>
<circle cx="731.5" cy="720" r="6.2"/>
<circle cx="738.17" cy="725.83" r="6.2"/>
<circle cx="710.17" cy="716.67" r="6.2"/>
<circle cx="703.67" cy="725.5" r="6.2"/>
<circle cx="720.33" cy="727.5" r="6.2"/>
<circle cx="719" cy="733.33" r="6.2"/>
<circle cx="704.83" cy="739.5" r="6.2"/>
<circle cx="697" cy="741.67" r="6.2"/>
<circle cx="695.67" cy="746.67" r="6.2"/>
<circle cx="724.5" cy="745.83" r="6.2"/>
<circle cx="734.83" cy="743.33" r="6.2"/>
<circle cx="717" cy="775.5" r="6.2"/>
<circle cx="778.5" cy="767.5" r="6.2"/>
<circle cx="778.5" cy="715.83" r="6.2"/>
<circle cx="783.17" cy="722.83" r="6.2"/>
<circle cx="791.83" cy="713.83" r="6.2"/>
<circle cx="803.17" cy="714.5" r="6.2"/>
<circle cx="804" cy="733" r="6.2"/>
<circle cx="828.67" cy="721.17" r="6.2"/>
<circle cx="828.67" cy="741.33" r="6.2"/>
<circle cx="831" cy="752.17" r="6.2"/>
<circle cx="833.33" cy="753.33" r="6.2"/>
<circle cx="832" cy="685" r="6.2"/>
<circle cx="841" cy="671.33" r="6.2"/>
<circle cx="841" cy="676.67" r="6.2"/>
<circle cx="842.33" cy="697" r="6.2"/>
<circle cx="843.17" cy="705.83" r="6.2"/>
<circle cx="858.17" cy="670.83" r="6.2"/>
<circle cx="864.83" cy="670.5" r="6.2"/>
<circle cx="858.17" cy="687" r="6.2"/>
<circle cx="858.17" cy="705.5" r="6.2"/>
<circle cx="875.67" cy="664.5" r="6.2"/>
<circle cx="884.83" cy="684.67" r="6.2"/>
<circle cx="879" cy="693.67" r="6.2"/>
<circle cx="879" cy="705" r="6.2"/>
<circle cx="873.67" cy="725.83" r="6.2"/>
<circle cx="873.67" cy="736.67" r="6.2"/>
<circle cx="894.83" cy="733.67" r="6.2"/>
<circle cx="903.5" cy="717" r="6.2"/>
<circle cx="902.83" cy="694.17" r="6.2"/>
<circle cx="897" cy="667.5" r="6.2"/>
<circle cx="902.33" cy="677.5" r="6.2"/>
<circle cx="907.33" cy="678.33" r="6.2"/>
<circle cx="908.17" cy="768.83" r="6.2"/>
<circle cx="914.67" cy="658.33" r="6.2"/>
<circle cx="915.5" cy="667.5" r="6.2"/>
<circle cx="918" cy="689.17" r="6.2"/>
<circle cx="931.67" cy="660" r="6.2"/>
<circle cx="931.67" cy="675" r="6.2"/>
<circle cx="947.17" cy="661.67" r="6.2"/>
<circle cx="959.67" cy="667.5" r="6.2"/>
<circle cx="955.5" cy="672.5" r="6.2"/>
<circle cx="951.67" cy="677.5" r="6.2"/>
<circle cx="951.67" cy="682.5" r="6.2"/>
<circle cx="958" cy="687.17" r="6.2"/>
<circle cx="956.67" cy="695" r="6.2"/>
<circle cx="933" cy="689.17" r="6.2"/>
<circle cx="941" cy="688.83" r="6.2"/>
<circle cx="936" cy="696.67" r="6.2"/>
<circle cx="947.17" cy="700.83" r="6.2"/>
<circle cx="967.17" cy="664.17" r="6.2"/>
<circle cx="975.5" cy="667.5" r="6.2"/>
<circle cx="976.33" cy="660" r="6.2"/>
<circle cx="984.67" cy="661.67" r="6.2"/>
<circle cx="989.67" cy="673.33" r="6.2"/>
<circle cx="1002.17" cy="673" r="6.2"/>
<circle cx="998" cy="679.17" r="6.2"/>
<circle cx="982.17" cy="687" r="6.2"/>
<circle cx="976.33" cy="709.5" r="6.2"/>
<circle cx="1000.5" cy="661.67" r="6.2"/>
<circle cx="1008" cy="661.67" r="6.2"/>
<circle cx="1019.67" cy="660.83" r="6.2"/>
<circle cx="1014.67" cy="670.83" r="6.2"/>
<circle cx="1020.5" cy="665.83" r="6.2"/>
<circle cx="1023.83" cy="686.17" r="6.2"/>
<circle cx="1012.5" cy="698.83" r="6.2"/>
<circle cx="1022.5" cy="709.67" r="6.2"/>
<circle cx="1008" cy="717" r="6.2"/>
<circle cx="1033" cy="662.5" r="6.2"/>
<circle cx="1033.83" cy="674.67" r="6.2"/>
<circle cx="1043.33" cy="664.17" r="6.2"/>
<circle cx="1043.83" cy="666.67" r="6.2"/>
<circle cx="1053" cy="679.17" r="6.2"/>
<circle cx="1066" cy="680.83" r="6.2"/>
<circle cx="1056" cy="690.5" r="6.2"/>
<circle cx="1059.33" cy="699.17" r="6.2"/>
<circle cx="1057.67" cy="695" r="6.2"/>
<circle cx="1054.67" cy="661.67" r="6.2"/>
<circle cx="1061.33" cy="665" r="6.2"/>
<circle cx="1069.67" cy="666.67" r="6.2"/>
<circle cx="1076.33" cy="663.33" r="6.2"/>
<circle cx="1081.33" cy="661.67" r="6.2"/>
<circle cx="1055.5" cy="668.33" r="6.2"/>
<circle cx="1088.5" cy="672.5" r="6.2"/>
<circle cx="1088.5" cy="688.33" r="6.2"/>
<circle cx="1086.33" cy="708.33" r="6.2"/>
<circle cx="1102" cy="697.33" r="6.2"/>
<circle cx="1100.83" cy="699.5" r="6.2"/>
<circle cx="1107.17" cy="659.17" r="6.2"/>
<circle cx="1103" cy="667.5" r="6.2"/>
<circle cx="1107.17" cy="671.67" r="6.2"/>
<circle cx="1106.33" cy="679.17" r="6.2"/>
<circle cx="1118" cy="669.67" r="6.2"/>
<circle cx="1133" cy="661.67" r="6.2"/>
<circle cx="1131.33" cy="680" r="6.2"/>
<circle cx="1128" cy="688.33" r="6.2"/>
<circle cx="1130.5" cy="692.5" r="6.2"/>
<circle cx="1136.67" cy="678.33" r="6.2"/>
<circle cx="921.83" cy="753.67" r="6.2"/>
<circle cx="955" cy="774.67" r="6.2"/>
<circle cx="1016.83" cy="802.5" r="6.2"/>
<circle cx="1155.5" cy="659.5" r="6.2"/>
<circle cx="1144.17" cy="665.33" r="6.2"/>
<circle cx="1140.83" cy="670.83" r="6.2"/>
<circle cx="1146.67" cy="671.67" r="6.2"/>
<circle cx="1150.5" cy="677.17" r="6.2"/>
<circle cx="1140" cy="681.67" r="6.2"/>
<circle cx="1144.5" cy="692.5" r="6.2"/>
<circle cx="1170" cy="681.67" r="6.2"/>
<circle cx="1183.33" cy="673.33" r="6.2"/>
<circle cx="1186.17" cy="680.5" r="6.2"/>
<circle cx="1208.33" cy="666.17" r="6.2"/>
<circle cx="1189.17" cy="695" r="6.2"/>
<circle cx="1198" cy="700" r="6.2"/>
<circle cx="1218.33" cy="707.17" r="6.2"/>
<circle cx="1229.5" cy="698" r="6.2"/>
<circle cx="1243" cy="715" r="6.2"/>
<circle cx="1244.17" cy="719.67" r="6.2"/>
<circle cx="1260.83" cy="660" r="6.2"/>
<circle cx="472.5" cy="816.25" r="6.2"/>
<circle cx="608.75" cy="821.75" r="6.2"/>
<circle cx="625.75" cy="821.25" r="6.2"/>
<circle cx="654.25" cy="818.25" r="6.2"/>
<circle cx="694.5" cy="844.25" r="6.2"/>
<circle cx="1066.7" cy="660" r="6.2"/>
<circle cx="1072.5" cy="656.7" r="6.2"/>
<circle cx="456.9" cy="738.1" r="6.2"/>
<circle cx="473.1" cy="721.9" r="6.2"/>
<circle cx="458.75" cy="771.25" r="6.2"/>
<circle cx="462.5" cy="780" r="6.2"/>
<circle cx="455" cy="777.5" r="6.2"/>
<circle cx="691.1" cy="653.5" r="6.2"/>
<circle cx="652.4" cy="693.1" r="6.2"/>
<circle cx="603.6" cy="731.9" r="6.2"/>
<circle cx="657.75" cy="745.6" r="6.2"/>
</g>
<g stroke="#222" stroke-width="2.85">
<line x1="121.67" x2="129" y1="845.21" y2="845.21"/>
<line x1="121.67" x2="129" y1="749.51" y2="749.51"/>
<line x1="121.67" x2="129" y1="653.81" y2="653.81"/>
<line x1="121.67" x2="129" y1="558.11" y2="558.11"/>
<line y1="861" y2="868.33" x1="431.15" x2="431.15"/>
<line y1="861" y2="868.33" x1="758.83" x2="758.83"/>
<line y1="861" y2="868.33" x1="1086.51" x2="1086.51"/>
</g>
<g fill="#404040" font-size="23.47">
<text x="115.8" y="854.41" text-anchor="end">0</text>
<text x="115.8" y="758.71" text-anchor="end">2500</text>
<text x="115.8" y="663.01" text-anchor="end">5000</text>
<text x="115.8" y="567.31" text-anchor="end">7500</text>
<text x="431.15" y="890.8" text-anchor="middle">10</text>
<text x="758.83" y="890.8" text-anchor="middle">20</text>
<text x="1086.51" y="890.8" text-anchor="middle">30</text>
</g>
<g fill="#000" font-size="29.33">
<text x="722" y="924.7" text-anchor="middle">Temperature (Celsius)</text>
<text transform="translate(50,678) rotate(-90)" text-anchor="middle">Daily bike rentals</text>
</g>
</svg>
</body></html>
